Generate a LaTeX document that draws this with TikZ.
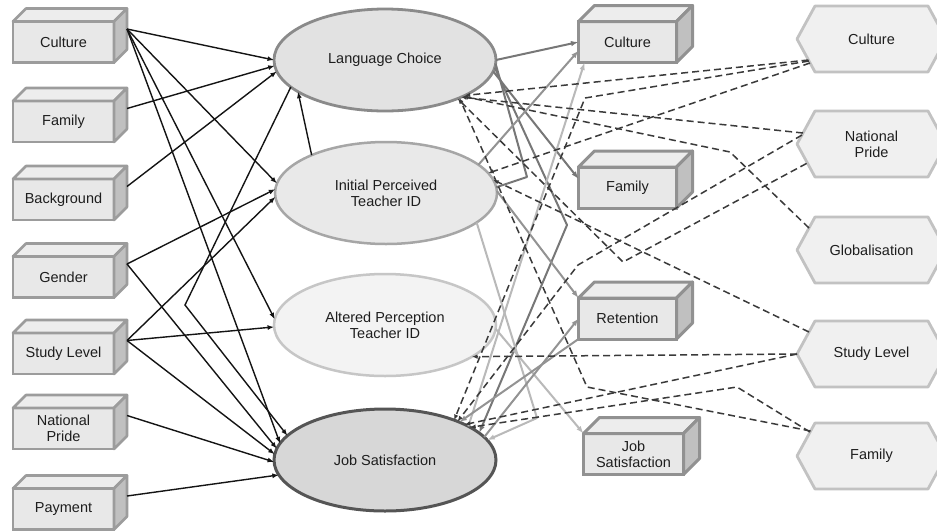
\documentclass[tikz,border=0pt]{standalone}
\usepackage{fontspec}
\setmainfont{Liberation Sans}
\usetikzlibrary{shapes.geometric,arrows.meta,calc}
\definecolor{txt}{HTML}{1E1E1E}
\definecolor{boxline}{HTML}{9C9C9C}
\definecolor{midline}{HTML}{919191}
\definecolor{frontfill}{HTML}{E8E8E8}
\definecolor{topfill}{HTML}{EDEDED}
\definecolor{sidefill}{HTML}{C0C0C0}
\definecolor{hexfill}{HTML}{F0F0F0}
\definecolor{hexline}{HTML}{C2C2C2}
\definecolor{lcfill}{HTML}{E2E2E2}
\definecolor{lcline}{HTML}{8A8A8A}
\definecolor{ipfill}{HTML}{E9E9E9}
\definecolor{ipline}{HTML}{A6A6A6}
\definecolor{apfill}{HTML}{F3F3F3}
\definecolor{apline}{HTML}{C6C6C6}
\definecolor{jsfill}{HTML}{D7D7D7}
\definecolor{jsline}{HTML}{555555}
\definecolor{gA}{HTML}{777777}
\definecolor{gB}{HTML}{939393}
\definecolor{gC}{HTML}{B9B9B9}
\definecolor{dshc}{HTML}{3A3A3A}
\tikzset{
  lbl/.style={font=\fontsize{14.5}{16}\selectfont, text=txt, align=center},
  cubefront/.style={lbl, rectangle, fill=frontfill, minimum width=101pt, minimum height=41pt, inner sep=1pt, outer sep=0pt},
  cubetop/.style={fill=topfill, line join=round},
  cubeside/.style={fill=sidefill, line join=round},
  ell/.style={lbl, ellipse, minimum width=222pt, minimum height=102pt, inner sep=0pt, outer sep=0pt, line width=2.5pt},
  hexshape/.style={fill=hexfill, draw=hexline, line width=2.8pt, line join=round},
  hexnode/.style={lbl, minimum width=149pt, minimum height=66pt, inner sep=0pt, outer sep=0pt},
  blk/.style={draw=black!92, line width=1.4pt, -{Latex[length=6.5pt,width=5pt]}},
  gry/.style={draw=#1, line width=2pt, line join=round, -{Latex[length=7.5pt,width=5.5pt]}},
  dsharr/.style={draw=dshc, line width=1.5pt, dash pattern=on 7pt off 4pt, line join=round, -{Latex[length=5.5pt,width=4.5pt]}},
  dshrev/.style={draw=dshc, line width=1.5pt, dash pattern=on 7pt off 4pt, line join=round, {Latex[length=5.5pt,width=4.5pt]}-}
}
% name, x, y, depth, line colour, line width, width, text
\newcommand{\cuboid}[8]{%
  \node[cubefront, draw=#5, line width=#6, minimum width=#7] (#1) at (#2,#3) {#8};
  \filldraw[cubetop, draw=#5, line width=#6] (#1.north west) -- ++(#4,-#4) -- ($(#1.north east)+(#4,-#4)$) -- (#1.north east) -- cycle;
  \filldraw[cubeside, draw=#5, line width=#6] (#1.north east) -- ++(#4,-#4) -- ($(#1.south east)+(#4,-#4)$) -- (#1.south east) -- cycle;
  \coordinate (#1-s) at ($(#1.east)+(#4,-#4)$);
}
\newcommand{\hexbox}[4]{%
  \filldraw[hexshape] ({#2-74.5},#3) -- ({#2-56.5},{#3-33}) -- ({#2+56.5},{#3-33}) -- ({#2+74.5},#3) -- ({#2+56.5},{#3+33}) -- ({#2-56.5},{#3+33}) -- cycle;
  \node[hexnode] (#1) at (#2,#3) {#4};
}
\begin{document}
\begin{tikzpicture}[x=1pt,y=-1pt]
\useasboundingbox (0,0) rectangle (937,531);
\clip (0,0) rectangle (937,531);
\fill[white] (0,0) rectangle (937,531);

% left boxes
\cuboid{cul}{63.5}{42}{13}{boxline}{2.6pt}{101pt}{Culture}
\cuboid{fam}{63.5}{121.5}{13}{boxline}{2.6pt}{101pt}{Family}
\cuboid{bac}{63.5}{199.5}{13}{boxline}{2.6pt}{101pt}{Background}
\cuboid{gen}{63.5}{277}{13}{boxline}{2.6pt}{101pt}{Gender}
\cuboid{stu}{63.5}{353.5}{13}{boxline}{2.6pt}{101pt}{Study Level}
\cuboid{nat}{63.5}{428.5}{13}{boxline}{2.6pt}{101pt}{National\\Pride}
\cuboid{pay}{63.5}{509}{13}{boxline}{2.6pt}{101pt}{Payment}

% ellipses
\node[ell, fill=lcfill, draw=lcline, line width=2.8pt] (LC) at (385,60) {Language Choice};
\node[ell, fill=ipfill, draw=ipline] (IP) at (386,193) {Initial Perceived\\Teacher ID};
\node[ell, fill=apfill, draw=apline] (AP) at (385,325) {Altered Perception\\Teacher ID};
\node[ell, fill=jsfill, draw=jsline, line width=3pt] (JS) at (385,460) {Job Satisfaction};

% middle boxes
\cuboid{mC}{627.5}{42}{16}{midline}{3pt}{98pt}{Culture}
\cuboid{mF}{627.5}{187.5}{16}{midline}{3pt}{98pt}{Family}
\cuboid{mR}{627.5}{318.5}{16}{midline}{3pt}{98pt}{Retention}
\cuboid{mJ}{633.5}{454}{16}{midline}{3pt}{100pt}{Job\\Satisfaction}

% hexagons
\hexbox{hC}{871.5}{39}{Culture}
\hexbox{hNP}{871.5}{144}{National\\Pride}
\hexbox{hG}{871.5}{250}{Globalisation}
\hexbox{hSL}{871.5}{354}{Study Level}
\hexbox{hF}{871.5}{456}{Family}

% bend points
\coordinate (bendA) at (185,305);
\coordinate (k1) at (527,177);
\coordinate (k2) at (567,225);
\coordinate (k3) at (537,418);
\coordinate (d2) at (585,98);
\coordinate (d5) at (578,265);
\coordinate (d6) at (623,262);
\coordinate (d7) at (730,152);
\coordinate (d11) at (737,387);
\coordinate (d12) at (587,387);

% left black arrows
\draw[blk] (cul-s) -- (LC.180);
\draw[blk] (cul-s) -- (IP.175);
\draw[blk] (cul-s) -- (AP.177);
\draw[blk] (cul-s) -- (JS.171);
\draw[blk] (fam-s) -- (LC.183);
\draw[blk] (bac-s) -- (LC.186);
\draw[blk] (gen-s) -- (IP.178);
\draw[blk] (gen-s) -- (JS.174);
\draw[blk] (stu-s) -- (IP.182);
\draw[blk] (stu-s) -- (AP.181);
\draw[blk] (stu-s) -- (JS.177);
\draw[blk] (nat-s) -- (JS.181);
\draw[blk] (pay-s) -- (JS.188);
\draw[blk] (IP.153) -- (LC.200);
\draw[blk] (LC.196) -- (bendA) -- (JS.166);

% grey solid arrows
\draw[gry=gA] (LC.east) -- (mC.west);
\draw[gry=gA, -] (LC.358) -- (k1) -- (IP.3);
\draw[gry=gA] (LC.356) -- (k2) -- (JS.16);
\draw[gry=gA] (LC.354) -- (mF.170);
\draw[gry=gB] (IP.17) -- (mC.190);
\draw[gry=gB] (IP.1) -- (mR.north west);
\draw[gry=gC] (IP.342) -- (k3) -- (JS.11);
\draw[gry=gC] (AP.358) -- (mJ.north west);
\draw[gry=gC] (JS.22) -- ($(mC.south west)+(6,0)$);
\draw[gry=gB] (JS.13) -- (mR.west);
\draw[gry=gB] (mR.south west) -- (JS.27);

% dashed links
\draw[dsharr] ($(hC.west)+(11.5,21)$) -- (LC.336);
\draw[dsharr] ($(hC.west)+(12,22)$) -- (d2) -- (JS.30);
\draw[dsharr] ($(hC.west)+(13,24)$) -- (IP.11);
\draw[dsharr] ($(hNP.west)+(6,-11)$) -- (LC.334);
\draw[dsharr] ($(hNP.west)+(5,-9)$) -- (d5) -- (JS.28);
\draw[dshrev] (LC.332) -- (d6) -- ($(hNP.west)+(10.4,19)$);
\draw[dsharr] ($(hG.west)+(12,-22)$) -- (d7) -- (LC.335);
\draw[dsharr] ($(hSL.west)+(12,-22)$) -- (IP.7);
\draw[dsharr] (hSL.west) -- (AP.340);
\draw[dsharr] (hSL.west) -- (JS.24);
\draw[dsharr] ($(hF.west)+(13,-24)$) -- (d11) -- (JS.21);
\draw[dsharr] ($(hF.west)+(13.5,-25)$) -- (d12) -- (LC.333);
\end{tikzpicture}
\end{document}
